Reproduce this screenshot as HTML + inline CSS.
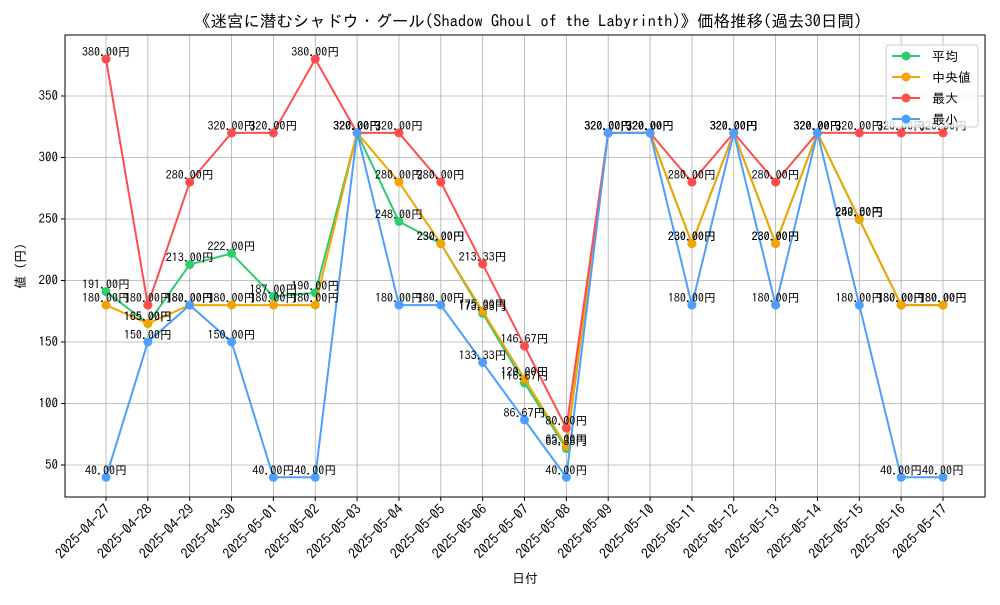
<!DOCTYPE html>
<html><head><meta charset="utf-8"><style>
body{margin:0;background:#fff}
svg text{font-family:"IPAGothic","Liberation Mono",monospace}
</style></head><body>
<svg id="c" width="1000" height="600" xmlns="http://www.w3.org/2000/svg"></svg>
<script>
const dates=["2025-04-27","2025-04-28","2025-04-29","2025-04-30","2025-05-01","2025-05-02","2025-05-03","2025-05-04","2025-05-05","2025-05-06","2025-05-07","2025-05-08","2025-05-09","2025-05-10","2025-05-11","2025-05-12","2025-05-13","2025-05-14","2025-05-15","2025-05-16","2025-05-17"];
const avgVals=[191,165,213,222,187,190,320,248,230,173.33,116.67,63.33,320,320,230,320,230,320,249.5,180,180];
const medVals=[180,165,180,180,180,180,320,280,230,175,120,65,320,320,230,320,230,320,250,180,180];
const maxVals=[380,180,280,320,320,380,320,320,280,213.33,146.67,80,320,320,280,320,280,320,320,320,320];
const minVals=[40,150,180,150,40,40,320,180,180,133.33,86.67,40,320,320,180,320,180,320,180,40,40];
const yTicks=[50,100,150,200,250,300,350];
const seriesNames=["平均","中央値","最大","最小"];
const colors=["#2ecc71","#f5a300","#ff4d4d","#4d9fff"];
const NS="http://www.w3.org/2000/svg";
const svg=document.getElementById('c');
const L=65,R=985,T=35,B=497;
const xs=i=>106+i*(943-106)/(dates.length-1);
const ys=v=>465-(v-50)*(465-96)/300;
function el(t,a,p){const e=document.createElementNS(NS,t);for(const k in a)e.setAttribute(k,a[k]);(p||svg).appendChild(e);return e;}
yTicks.forEach(v=>{
 const g=el('line',{x1:L,x2:R,y1:ys(v),y2:ys(v),stroke:'#b0b0b0','stroke-width':0.8});
 
 
 el('line',{x1:L-4,x2:L,y1:ys(v),y2:ys(v),stroke:'#000'});
 const t=el('text',{x:L-7,y:ys(v)+4,'text-anchor':'end','font-size':13});t.textContent=v;
 
 
});
dates.forEach((d,i)=>{
 const g=el('line',{x1:xs(i),x2:xs(i),y1:T,y2:B,stroke:'#b0b0b0','stroke-width':0.8});
 
 
 el('line',{x1:xs(i),x2:xs(i),y1:B,y2:B+4,stroke:'#000'});
 const t=el('text',{x:xs(i)+5,y:B+13,'text-anchor':'end','font-size':14,transform:`rotate(-45 ${xs(i)+5} ${B+13})`});t.textContent=d;
 
 
});
const fr=el('rect',{x:L,y:T,width:R-L,height:B-T,fill:'none',stroke:'#000','stroke-width':1});


const all=[avgVals,medVals,maxVals,minVals];
all.forEach((vals,s)=>{
 const g=el('g',{});
 
 
 el('polyline',{points:vals.map((v,i)=>xs(i)+','+ys(v)).join(' '),fill:'none',stroke:colors[s],'stroke-width':2},g);
 vals.forEach((v,i)=>{
  const c=el('circle',{cx:xs(i),cy:ys(v),r:4.5,fill:colors[s]},g);
  
  
 });
});
all.forEach((vals,s)=>{
 vals.forEach((v,i)=>{
  const t=el('text',{x:xs(i),y:ys(v)-3,'text-anchor':'middle','font-size':12});t.textContent=v.toFixed(2)+'円';
  
  
 });
});
const title=el('text',{x:528,y:27,'text-anchor':'middle','font-size':16.5});
title.textContent='《迷宮に潜むシャドウ・グール(Shadow Ghoul of the Labyrinth)》価格推移(過去30日間)';


const xl=el('text',{x:525,y:583,'text-anchor':'middle','font-size':13});xl.textContent='日付';


const yl=el('text',{x:25,y:266,'text-anchor':'middle','font-size':13,transform:'rotate(-90 25 266)'});yl.textContent='値 (円)';


const lg=el('g',{});


el('rect',{x:886,y:45,width:92,height:82,fill:'#fff','fill-opacity':0.8,stroke:'#ccc',rx:3},lg);
seriesNames.forEach((n,s)=>{
 const y=56+s*21;
 const e=el('g',{},lg);
 
 
 el('line',{x1:892,x2:920,y1:y,y2:y,stroke:colors[s],'stroke-width':2},e);
 el('circle',{cx:906,cy:y,r:4.5,fill:colors[s]},e);
 const t=el('text',{x:932,y:y+5,'font-size':13},e);t.textContent=n;
});
</script>
</body></html>
